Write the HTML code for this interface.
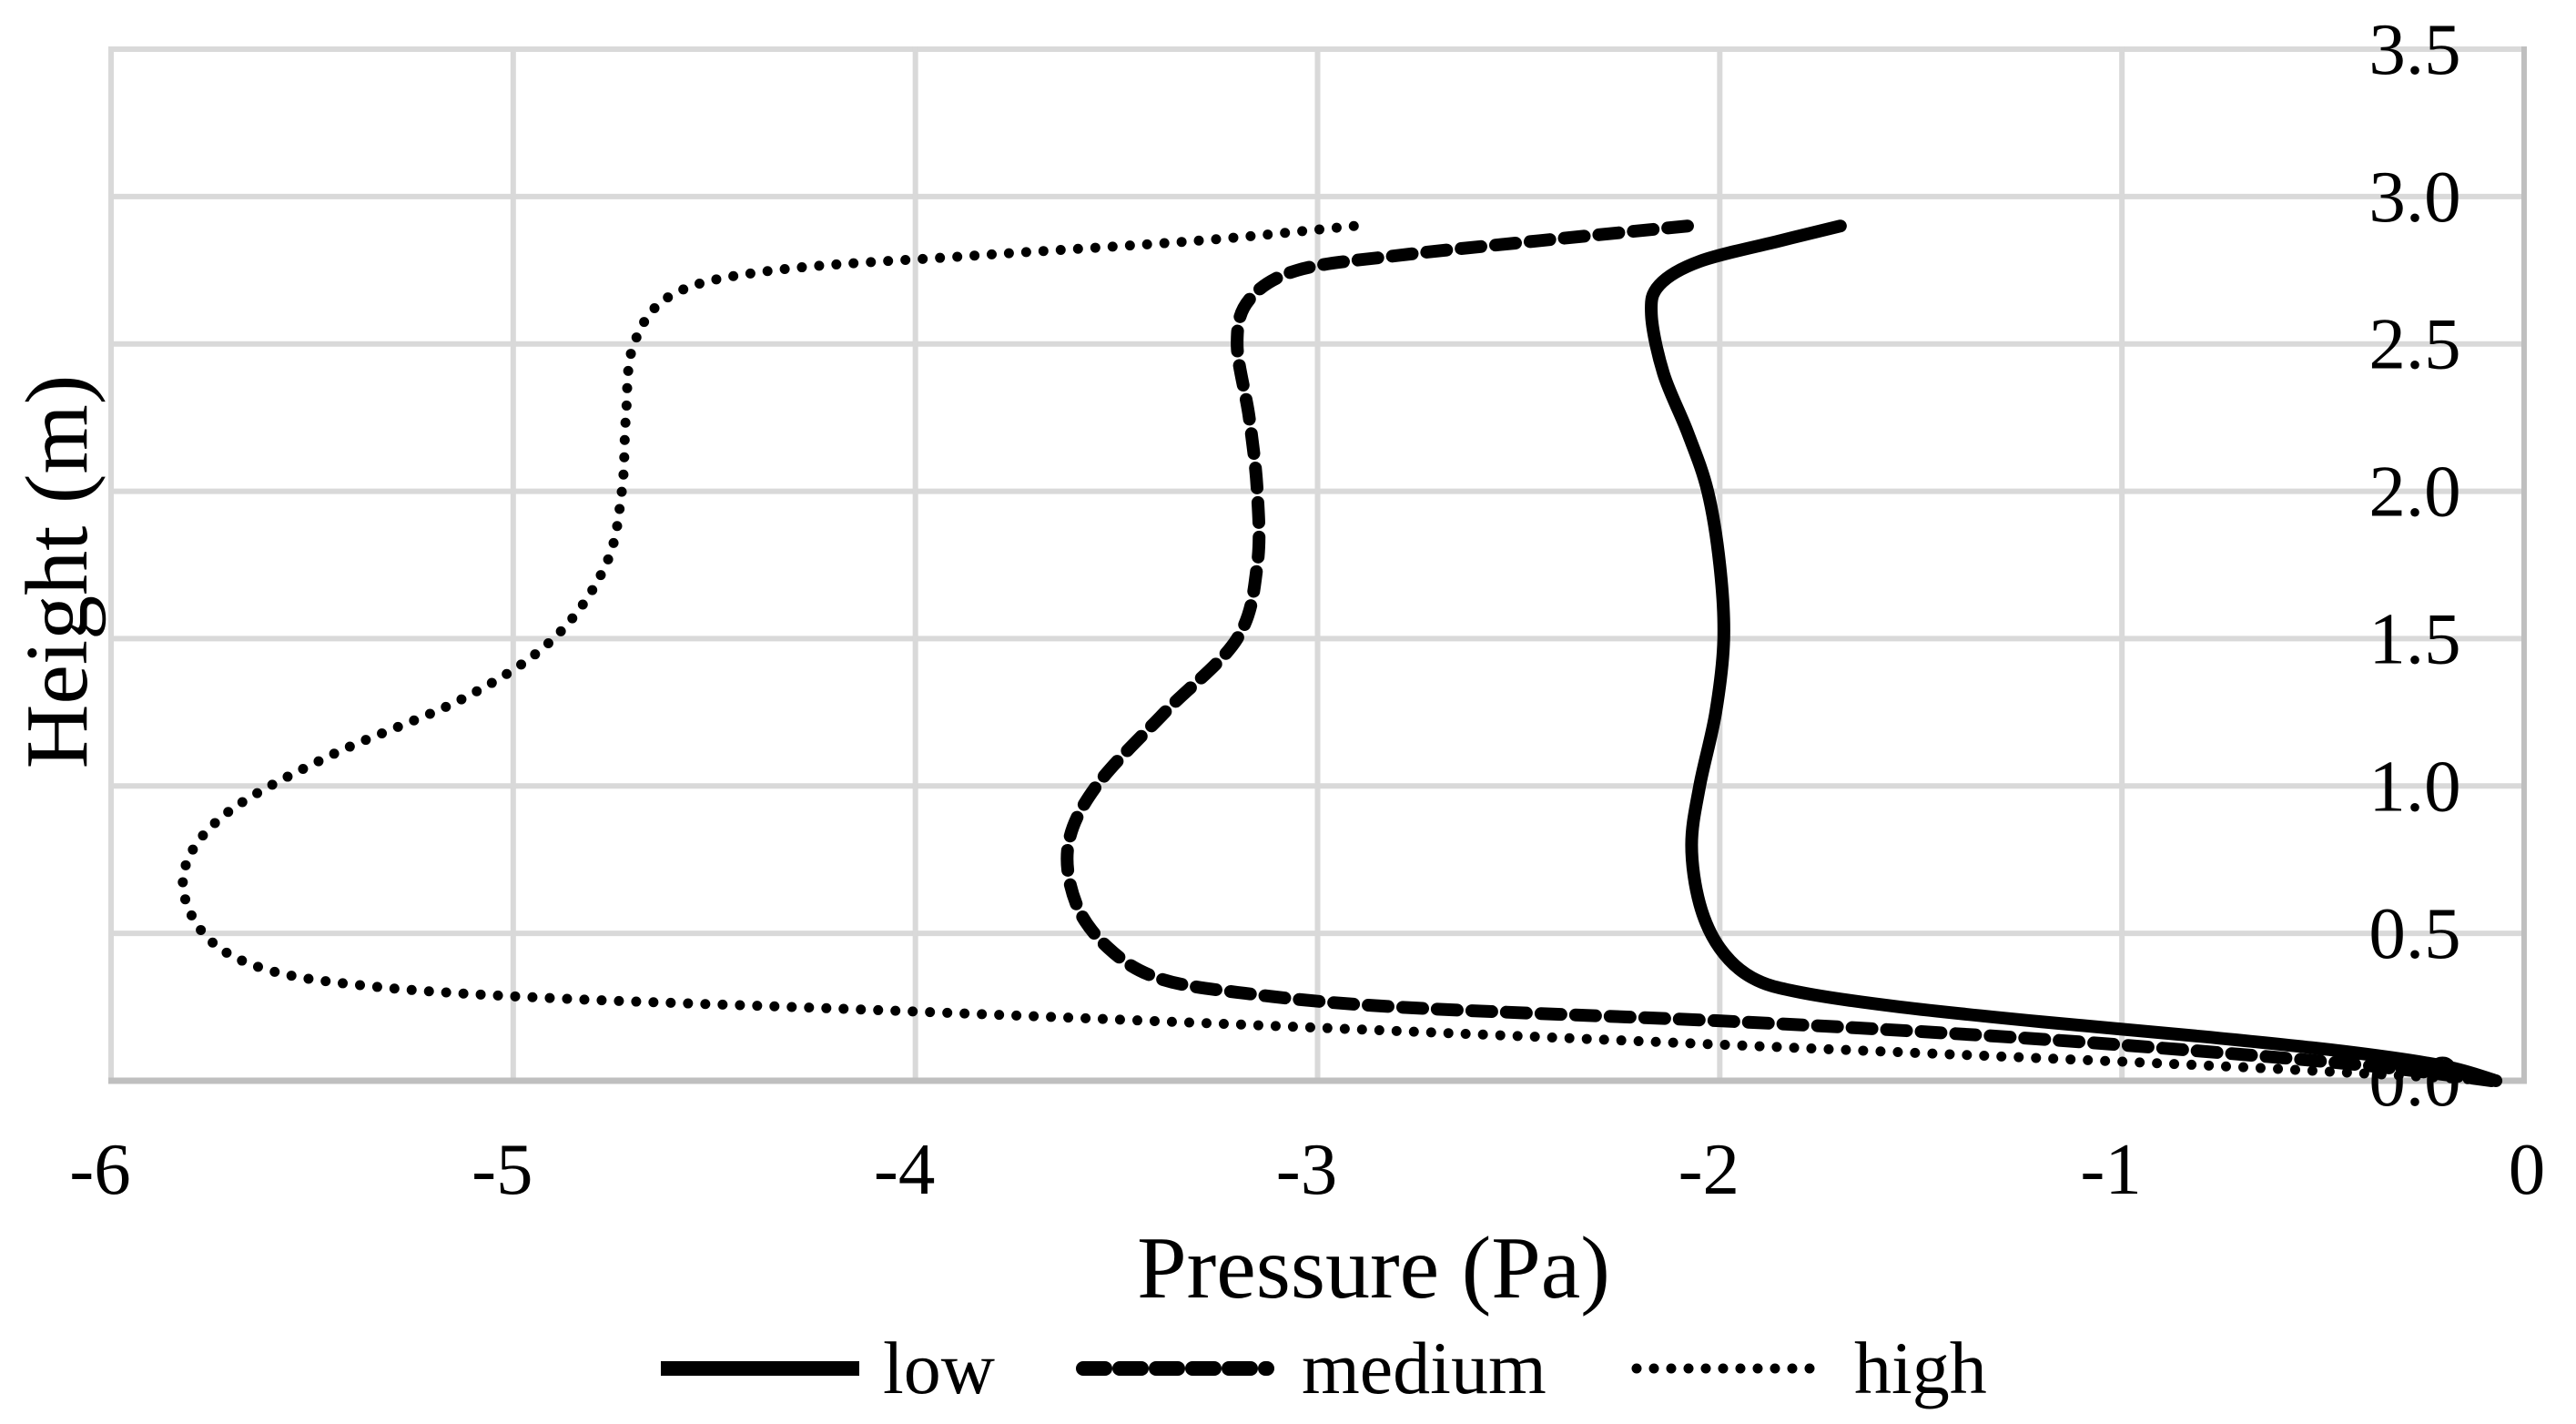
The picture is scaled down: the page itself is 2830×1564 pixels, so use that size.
<!DOCTYPE html>
<html><head><meta charset="utf-8"><style>
html,body{margin:0;padding:0;background:#fff;}
svg{display:block;font-family:"Liberation Serif",serif;}
</style></head><body>
<svg id="chart" width="2830" height="1564" viewBox="0 0 2830 1564" xmlns="http://www.w3.org/2000/svg">
<rect width="2830" height="1564" fill="#fff"/>
<g id="grid"></g>
<g id="series"></g>
<g id="labels"></g>
<text transform="translate(95,628) rotate(-90)" text-anchor="middle" font-size="98">Height (m)</text>
<text x="1509" y="1425" text-anchor="middle" font-size="98">Pressure (Pa)</text>
<g>
 <g>
  <line x1="726" y1="1503" x2="944" y2="1503" stroke="#000" stroke-width="16"/>
  <text x="970" y="1530" font-size="82">low</text>
 </g>
 <g>
  <line x1="1190" y1="1503" x2="1392" y2="1503" stroke="#000" stroke-width="16" stroke-dasharray="24 16" stroke-linecap="round"/>
  <text x="1430" y="1530" font-size="82">medium</text>
 </g>
 <g>
  <line x1="1798" y1="1503" x2="1990" y2="1503" stroke="#000" stroke-width="11" stroke-dasharray="0 19" stroke-linecap="round"/>
  <text x="2037" y="1530" font-size="82">high</text>
 </g>
</g>
</svg>
<script>
const xTicks = [-6,-5,-4,-3,-2,-1,0];
const yTicks = [0,0.5,1.0,1.5,2.0,2.5,3.0,3.5];
const xTickLabels = ["-6","-5","-4","-3","-2","-1","0"];
const yTickLabels = ["0.0","0.5","1.0","1.5","2.0","2.5","3.0","3.5"];
const lowHeight = [2.9,2.85,2.78,2.7,2.6,2.4,2.2,2.0,1.75,1.5,1.25,1.0,0.8,0.6,0.45,0.35,0.3,0.25,0.2,0.15,0.1,0.05,0.0];
const lowPressure = [-1.70,-1.85,-2.05,-2.15,-2.17,-2.14,-2.08,-2.03,-2.0,-1.99,-2.01,-2.05,-2.07,-2.05,-2.0,-1.92,-1.8,-1.55,-1.2,-0.8,-0.45,-0.2,-0.07];
const mediumHeight = [2.9,2.85,2.8,2.75,2.65,2.5,2.25,2.0,1.75,1.5,1.25,1.0,0.8,0.6,0.45,0.35,0.3,0.25,0.2,0.15,0.1,0.05,0.0];
const mediumPressure = [-2.08,-2.45,-2.8,-3.05,-3.17,-3.2,-3.17,-3.15,-3.15,-3.2,-3.38,-3.55,-3.62,-3.6,-3.52,-3.4,-3.2,-2.8,-1.95,-1.3,-0.8,-0.38,-0.08];
const highHeight = [2.9,2.85,2.8,2.75,2.67,2.5,2.25,2.0,1.75,1.5,1.3,1.1,0.9,0.7,0.5,0.38,0.32,0.28,0.24,0.18,0.11,0.05,0.0];
const highPressure = [-2.91,-3.3,-3.85,-4.35,-4.6,-4.7,-4.72,-4.73,-4.77,-4.9,-5.12,-5.46,-5.72,-5.82,-5.77,-5.62,-5.35,-4.9,-4.1,-3.0,-1.78,-0.76,-0.07];

const X0=122, X1=2773, Y0=1187, Y1=54;
function sx(v){return X0+(v+6)/6*(X1-X0);}
function sy(v){return Y0-v/3.5*(Y0-Y1);}
const NS="http://www.w3.org/2000/svg";
function mk(tag,attrs,parent){const e=document.createElementNS(NS,tag);for(const k in attrs)e.setAttribute(k,attrs[k]);parent.appendChild(e);return e;}
const grid=document.getElementById('grid'), ser=document.getElementById('series'), lab=document.getElementById('labels');
yTicks.forEach((t,i)=>{
  if(t>0){const l=mk('line',{x1:X0,x2:X1,y1:sy(t),y2:sy(t),stroke:'#d9d9d9','stroke-width':6},grid);
  
  }
  const tx=mk('text',{x:2653,y:sy(t)+27,'text-anchor':'middle','font-size':81},lab);
  
  
  tx.textContent=yTickLabels[i];
});
xTicks.forEach((t,i)=>{
  const c=(t===0)?'#bfbfbf':'#d9d9d9';
  const l=mk('line',{x1:sx(t),x2:sx(t),y1:Y1-3,y2:Y0,stroke:c,'stroke-width':6},grid);
  
  
  const tx=mk('text',{x:sx(t)+(t<0?-12:3),y:1311,'text-anchor':'middle','font-size':81},lab);
  
  
  tx.textContent=xTickLabels[i];
});
const ax=mk('line',{x1:X0-3,x2:X1+3,y1:Y0,y2:Y0,stroke:'#bfbfbf','stroke-width':7},grid);



function pathFrom(hs,ps){
  const pts=hs.map((h,i)=>[sx(ps[i]),sy(h)]);
  let d='M'+pts[0][0]+','+pts[0][1];
  for(let i=0;i<pts.length-1;i++){
    const p0=pts[i-1]||pts[i],p1=pts[i],p2=pts[i+1],p3=pts[i+2]||p2;
    const c1=[p1[0]+(p2[0]-p0[0])/6,p1[1]+(p2[1]-p0[1])/6];
    const c2=[p2[0]-(p3[0]-p1[0])/6,p2[1]-(p3[1]-p1[1])/6];
    d+=' C'+c1+' '+c2+' '+p2;
  }
  return d;
}
const pl=mk('path',{d:pathFrom(lowHeight,lowPressure),fill:'none',stroke:'#000','stroke-width':14,'stroke-linecap':'round'},ser);


const pm=mk('path',{d:pathFrom(mediumHeight,mediumPressure),fill:'none',stroke:'#000','stroke-width':14,'stroke-dasharray':'22 16','stroke-linecap':'round'},ser);


const ph=mk('path',{d:pathFrom(highHeight,highPressure),fill:'none',stroke:'#000','stroke-width':11,'stroke-dasharray':'0 19','stroke-linecap':'round'},ser);


</script>
</body></html>
